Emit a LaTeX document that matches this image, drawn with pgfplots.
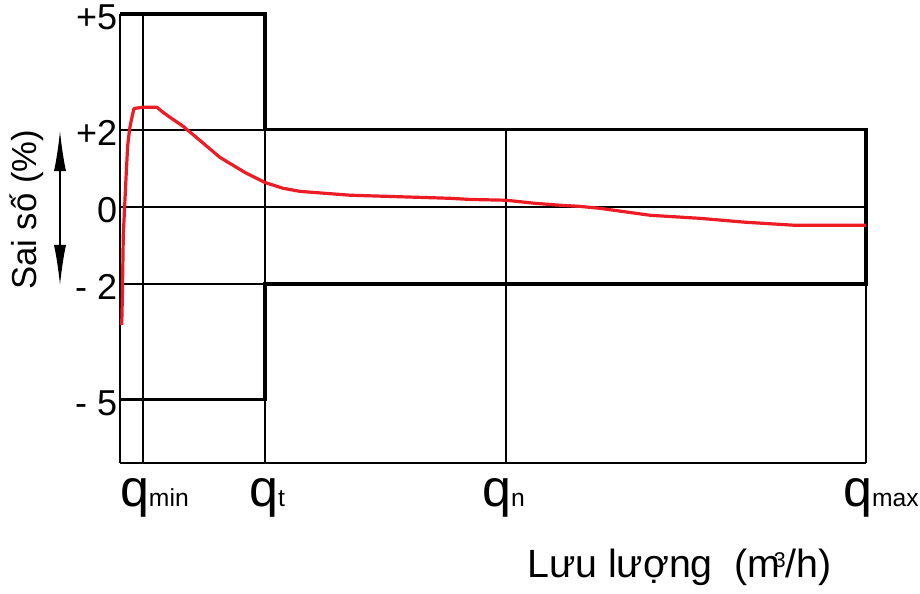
\documentclass[border=0pt]{standalone}
\usepackage{fontspec}
\setmainfont{Liberation Sans}
\usepackage{pgfplots}
\pgfplotsset{compat=1.18}
\usetikzlibrary{arrows.meta}
\definecolor{errred}{RGB}{237,28,36}
\newcommand{\qlab}[2]{\makebox[0pt][l]{\hspace*{#1}\makebox[0pt][r]{\fontsize{39}{39}\selectfont q}\makebox[0pt][l]{\fontsize{18.5}{18.5}\selectfont #2}}}
\begin{document}
\begin{tikzpicture}
\begin{axis}[
  scale only axis, width=559.5pt, height=336.75pt,
  xmin=0, xmax=746, ymin=-6.645, ymax=5,
  axis line style={draw=none},
  major tick length=0pt,
  clip=false,
  ytick={-5,-2,0,2,5},
  yticklabels={- 5,- 2,0,\raisebox{-4pt}{+2},+5},
  yticklabel style={font=\fontsize{27}{27}\selectfont, anchor=east, inner sep=0pt, xshift=-2pt, yshift=-2.5pt},
  xtick={23,145,386,746},
  xticklabels={{\qlab{4.5pt}{min}},{\qlab{9.75pt}{t}},{\qlab{3.75pt}{n}},{\qlab{4.5pt}{max}}},
  xticklabel style={anchor=base, inner sep=0pt, yshift=-32.8pt},
]
% thin frame and grid lines
\addplot[black, line width=1.3pt] coordinates {(0,-6.645) (0,5)};
\addplot[black, line width=1.3pt] coordinates {(0,-6.645) (746,-6.645)};
\addplot[black, line width=1.3pt] coordinates {(23,5) (23,-6.645)};
\addplot[black, line width=1.3pt] coordinates {(145,2) (145,-2)};
\addplot[black, line width=1.3pt] coordinates {(145,-5) (145,-6.645)};
\addplot[black, line width=1.3pt] coordinates {(386,2) (386,-6.645)};
\addplot[black, line width=1.3pt] coordinates {(746,-2) (746,-6.645)};
\addplot[black, line width=1.3pt] coordinates {(0,2) (145,2)};
\addplot[black, line width=1.3pt] coordinates {(0,0) (746,0)};
\addplot[black, line width=1.3pt] coordinates {(0,-2) (145,-2)};
% thick limit-error envelope
\addplot[black, line width=2.6pt, line join=miter] coordinates {
  (0,5) (145,5) (145,2) (746,2) (746,-2) (145,-2) (145,-5) (0,-5)};
% error curve
\addplot[errred, line width=2.4pt, line join=round] coordinates {
  (1.7,-3.07) (2.3,-2.42) (3.3,-0.74) (4.7,0.04) (6,0.74) (7.7,1.59)
  (9.7,2.03) (11.7,2.29) (14,2.55) (23,2.58) (37,2.58) (43,2.45)
  (50,2.32) (63,2.09) (80,1.72) (100,1.28) (125,0.89) (145,0.63)
  (163,0.48) (180,0.40) (205,0.35) (230,0.30) (330,0.22) (350,0.19)
  (386,0.17) (415,0.09) (440,0.04) (460,0.01) (480,-0.04) (530,-0.22)
  (580,-0.30) (625,-0.40) (675,-0.48) (746,-0.48)};
% axis description: double arrow, y label, x label
\draw[line width=0.9pt, {Latex[length=30pt,width=9pt]}-{Latex[length=30pt,width=9pt]}]
  (axis cs:-60,1.963) -- (axis cs:-60,-2.028);
\node[rotate=90, font=\fontsize{26}{26}\selectfont, inner sep=0pt] at (axis cs:-93,-0.083) {Sai số (\%)};
\node[anchor=base west, font=\fontsize{29.5}{29.5}\selectfont, inner sep=0pt] at (axis cs:407,-9.627)
  {Lưu lượng\ \ (m\kern-5pt\raisebox{7.5pt}{\fontsize{16}{16}\selectfont 3}/h)};
% page extent
\path (axis cs:-120,-10.042) rectangle (axis cs:800,5.363);
\end{axis}
\end{tikzpicture}
\end{document}
